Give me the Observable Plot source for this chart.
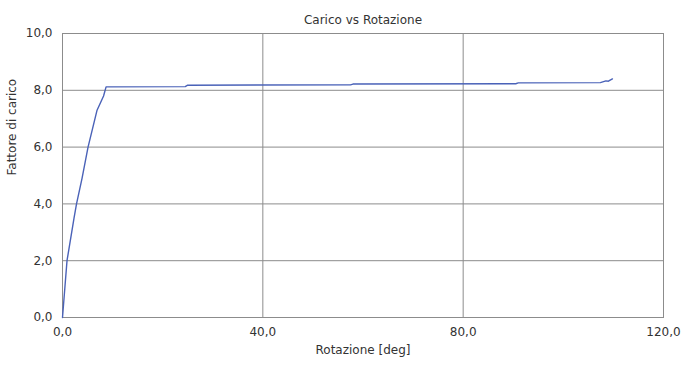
<!DOCTYPE html>
<html><head><meta charset="utf-8">
<script src="https://cdn.jsdelivr.net/npm/d3@7"></script>
<script src="https://cdn.jsdelivr.net/npm/@observablehq/plot@0.6"></script>
<style>body{margin:0;background:#fff;} svg{display:block;}</style>
</head><body><div id="chart"></div>
<script>
const title = "Carico vs Rotazione";
const xLabel = "Rotazione [deg]";
const yLabel = "Fattore di carico";
const rotazione = [0, 0.9, 2.3, 2.8, 3.9, 5.1, 6.9, 8.2, 8.7, 24.5, 25.0, 57.5, 58.0, 90.5, 91.0, 107.4, 108.5, 109.0, 109.8];
const fattore   = [0, 2.0, 3.5, 4.0, 4.9, 6.0, 7.3, 7.8, 8.12, 8.13, 8.18, 8.19, 8.22, 8.23, 8.26, 8.27, 8.33, 8.32, 8.40];
const xTicks = [0, 40, 80, 120];
const yTicks = [0, 2, 4, 6, 8, 10];

const data = rotazione.map((x, i) => ({x, y: fattore[i]}));
const fmt = d => d.toFixed(1).replace(".", ",");
const gray = "#8c8c8c";

const chart = Plot.plot({
  width: 700, height: 369,
  marginLeft: 62, marginRight: 37, marginTop: 33, marginBottom: 52,
  style: {fontFamily: "'DejaVu Sans', Verdana, sans-serif", fontSize: "12px", color: "#333", background: "#fff"},
  x: {domain: [0, 120], ticks: xTicks, tickFormat: fmt, tickSize: 0, tickPadding: 10, label: null},
  y: {domain: [0, 10], ticks: yTicks, tickFormat: fmt, tickSize: 0, tickPadding: 10, label: null},
  marks: [
    Plot.gridX(xTicks, {stroke: gray, strokeOpacity: 1}),
    Plot.gridY(yTicks, {stroke: gray, strokeOpacity: 1}),
    Plot.frame({stroke: gray}),
    Plot.line(data, {x: "x", y: "y", stroke: "#4a62b8", strokeWidth: 1.4}),
    Plot.text([title], {frameAnchor: "top", dy: -18, fontSize: 12, fill: "#333"}),
    Plot.text([xLabel], {frameAnchor: "bottom", dy: 36, fontSize: 12, fill: "#333"}),
    Plot.text([yLabel], {frameAnchor: "left", dx: -50, rotate: -90, fontSize: 12, fill: "#333"})
  ]
});
document.getElementById("chart").appendChild(chart);
</script>
</body></html>
